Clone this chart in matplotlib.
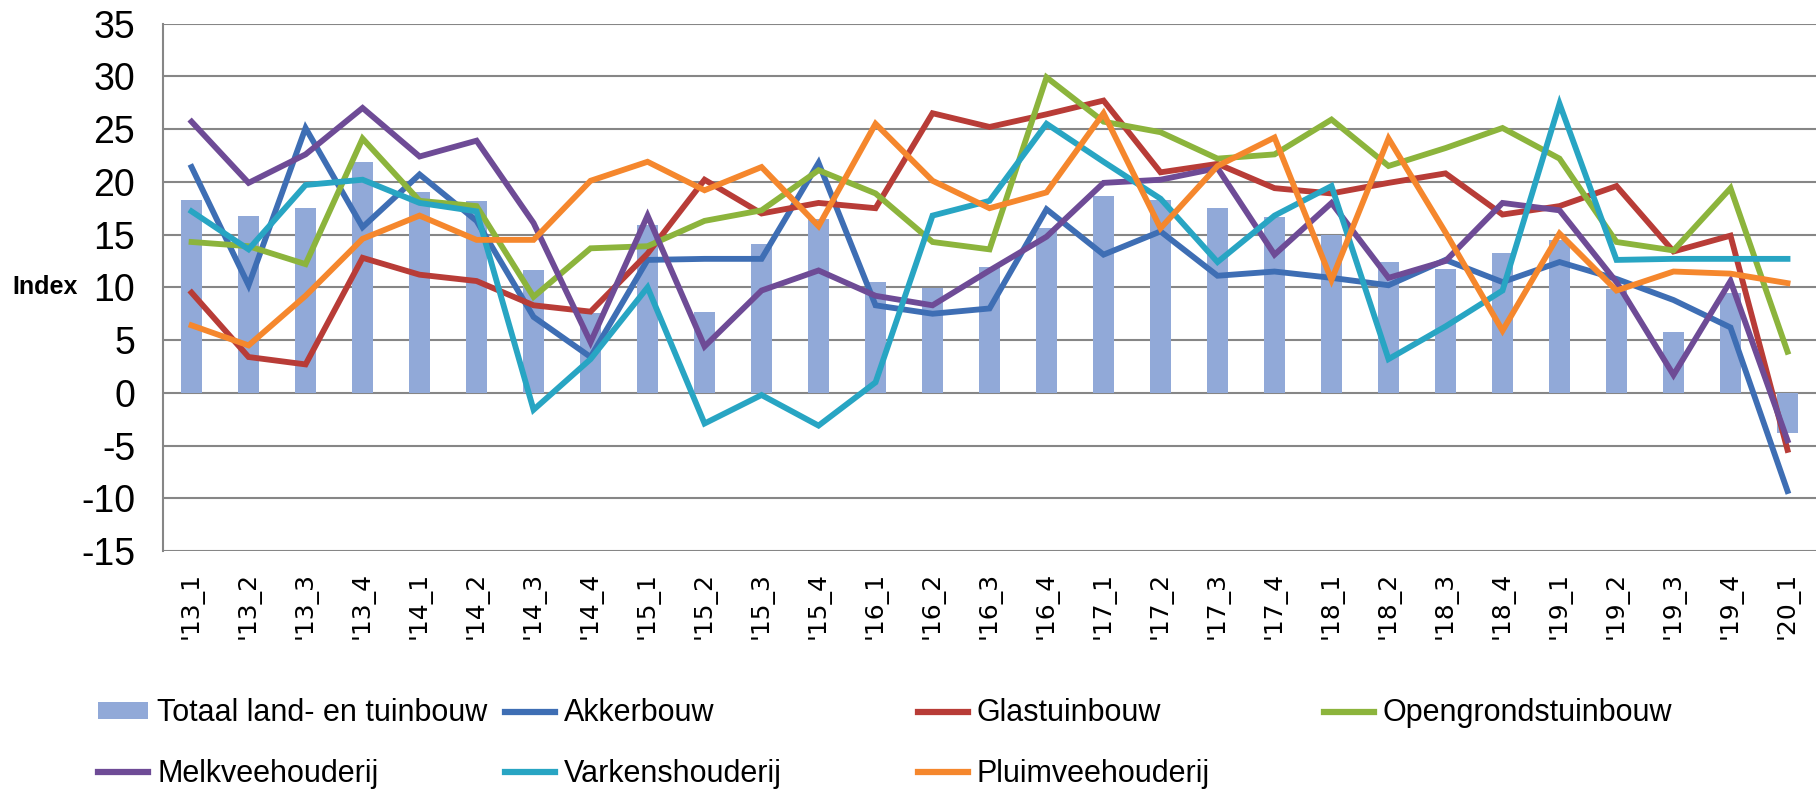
import numpy as np
import matplotlib
matplotlib.use("Agg")
import matplotlib.pyplot as plt
from matplotlib.lines import Line2D
from matplotlib.patches import Patch

# quarters on the x axis
quarters = ["'13_1", "'13_2", "'13_3", "'13_4", "'14_1", "'14_2", "'14_3", "'14_4",
            "'15_1", "'15_2", "'15_3", "'15_4", "'16_1", "'16_2", "'16_3", "'16_4",
            "'17_1", "'17_2", "'17_3", "'17_4", "'18_1", "'18_2", "'18_3", "'18_4",
            "'19_1", "'19_2", "'19_3", "'19_4", "'20_1"]

# index per sector
totaal = [18.3, 16.8, 17.5, 21.9, 19.0, 18.2, 11.6, 7.6, 15.9, 7.7, 14.1, 16.5, 10.5, 9.9,
          11.9, 15.6, 18.7, 18.3, 17.5, 16.7, 15.0, 12.4, 11.7, 13.3, 14.5, 9.8, 5.8, 9.5, -3.8]
akkerbouw = [21.4, 10.2, 25.1, 15.7, 20.7, 16.3, 7.2, 3.4, 12.6, 12.7, 12.7, 21.8, 8.3, 7.5,
             8.0, 17.4, 13.1, 15.3, 11.1, 11.5, 10.9, 10.2, 12.6, 10.5, 12.4, 10.8, 8.8, 6.2, -9.3]
glastuinbouw = [9.5, 3.4, 2.7, 12.8, 11.2, 10.6, 8.3, 7.7, 13.2, 20.2, 17.0, 18.0, 17.5, 26.5,
                25.2, 26.4, 27.7, 20.9, 21.7, 19.4, 18.9, 19.9, 20.8, 16.9, 17.7, 19.6, 13.4, 14.9, -5.4]
opengrond = [14.3, 13.9, 12.2, 24.1, 18.2, 17.7, 9.1, 13.7, 13.9, 16.3, 17.3, 21.1, 18.9, 14.3,
             13.6, 29.9, 25.7, 24.7, 22.2, 22.6, 25.9, 21.5, 23.2, 25.1, 22.2, 14.3, 13.5, 19.4, 3.9]
melkvee = [25.7, 19.9, 22.6, 27.0, 22.4, 23.9, 16.1, 4.8, 16.8, 4.4, 9.7, 11.6, 9.2, 8.3,
           11.6, 14.8, 19.9, 20.2, 21.3, 13.1, 18.0, 10.9, 12.5, 18.0, 17.3, 10.5, 1.7, 10.6, -4.5]
varkens = [17.2, 13.6, 19.7, 20.2, 18.0, 17.2, -1.6, 3.2, 10.0, -2.9, -0.2, -3.1, 1.0, 16.8,
           18.2, 25.5, 21.9, 18.4, 12.4, 16.8, 19.6, 3.2, 6.3, 9.7, 27.4, 12.6, 12.7, 12.7, 12.7]
pluimvee = [6.4, 4.5, 9.2, 14.6, 16.8, 14.5, 14.5, 20.1, 21.9, 19.2, 21.4, 15.8, 25.5, 20.1,
            17.5, 19.0, 26.5, 15.6, 21.5, 24.2, 10.7, 24.1, 15.2, 5.9, 15.1, 9.7, 11.5, 11.3, 10.4]

series = [("Akkerbouw", akkerbouw, "#3E6EB4"),
          ("Glastuinbouw", glastuinbouw, "#B83C37"),
          ("Opengrondstuinbouw", opengrond, "#8CB43C"),
          ("Melkveehouderij", melkvee, "#6E4B96"),
          ("Varkenshouderij", varkens, "#28A5C3"),
          ("Pluimveehouderij", pluimvee, "#F5872D")]
bar_color = "#91A9D8"

plt.rcParams["font.family"] = ["Liberation Sans", "DejaVu Sans"]
plt.rcParams["axes.unicode_minus"] = False

fig = plt.figure(figsize=(18.16, 8), dpi=100)
ax = fig.add_axes([0.0898, 0.311, 0.9102, 0.6596])

x = np.arange(len(quarters))
ax.bar(x, totaal, width=0.38, color=bar_color, zorder=2)
for name, vals, col in series:
    ax.plot(x, vals, color=col, lw=4.2, solid_joinstyle="miter", zorder=3)

ax.set_xlim(-0.5, len(quarters) - 0.5)
ax.set_ylim(-15, 35)
ax.set_yticks(np.arange(-15, 36, 5))
ax.yaxis.grid(True, color="#868686", lw=1.5, zorder=0)
ax.set_axisbelow(True)
for s in ["top", "right", "bottom"]:
    ax.spines[s].set_visible(False)
ax.spines["left"].set_color("#868686")
ax.spines["left"].set_linewidth(1.5)
ax.tick_params(axis="y", length=0, pad=20, labelsize=27, colors="black")
ax.set_xticks(x)
ax.set_xticklabels(quarters, rotation=90, fontsize=18, family="DejaVu Sans")
ax.tick_params(axis="x", length=0, pad=15)
ax.set_ylabel("Index", rotation=0, fontsize=18, fontweight="bold", va="center", ha="center")
ax.yaxis.set_label_coords(-0.0714, 0.5)

# legend laid out as four fixed columns, two rows
bar_handle = Patch(facecolor=bar_color, edgecolor="none")
def line_handle(col):
    return Line2D([], [], color=col, lw=4.5)
cols = [
    ([bar_handle, line_handle(series[3][2])], ["Totaal land- en tuinbouw", "Melkveehouderij"], 0.054),
    ([line_handle(series[0][2]), line_handle(series[4][2])], ["Akkerbouw", "Varkenshouderij"], 0.278),
    ([line_handle(series[1][2]), line_handle(series[5][2])], ["Glastuinbouw", "Pluimveehouderij"], 0.5055),
    ([line_handle(series[2][2])], ["Opengrondstuinbouw"], 0.729),
]
for handles, labels, x0 in cols:
    fig.legend(handles, labels, loc="upper left", bbox_to_anchor=(x0, 0.127),
               frameon=False, fontsize=22, handlelength=1.63, handleheight=0.45,
               handletextpad=0.3, labelspacing=1.0, borderpad=0, borderaxespad=0)

fig.savefig("out.png", dpi=100)
